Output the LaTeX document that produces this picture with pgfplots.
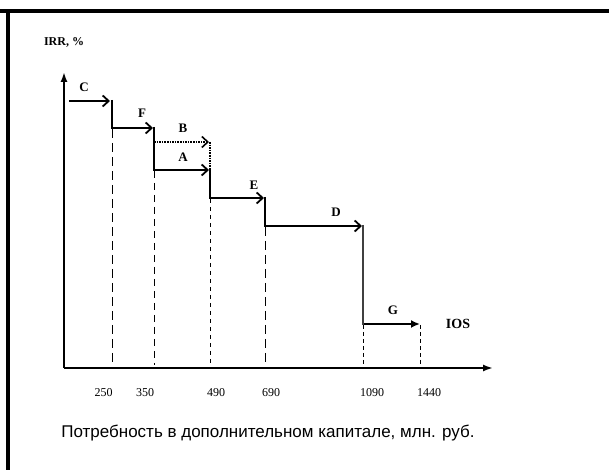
\documentclass[border=0pt]{standalone}
\usepackage{fontspec}
\setmainfont{Liberation Serif}
\newfontfamily\arialf{Liberation Sans}
\usepackage{pgfplots}
\pgfplotsset{compat=1.18}
\usetikzlibrary{arrows.meta}
\tikzset{lbl/.style={font=\bfseries\fontsize{13}{15}\selectfont, inner sep=0pt}}
\begin{document}
\begin{tikzpicture}[x=1pt,y=1pt]
\path[use as bounding box] (0,0) rectangle (609,470);
\draw[line width=4pt] (0,459) -- (609,459);
\draw[line width=4pt] (8,0) -- (8,461);
\begin{axis}[
  at={(64,102)}, anchor=south west,
  scale only axis, width=429pt, height=296pt,
  xmin=64, xmax=493, ymin=102, ymax=398,
  axis lines=left, clip=false,
  axis line style={line width=1.8pt, -{Latex[length=10pt,width=7pt]}},
  xtick={103.5,145,216,271,372,429},
  xticklabels={250,350,490,690,1090,1440},
  ytick=\empty,
  major tick length=0pt,
  xticklabel style={font=\fontsize{12}{14}\selectfont, inner sep=0pt, anchor=center, yshift=-25pt},
  /pgf/number format/assume math mode=true,
  ylabel={IRR, \%},
  ylabel style={rotate=-90, anchor=west, inner sep=0pt, font=\bfseries\fontsize{12}{14}\selectfont, at={(axis description cs:-0.047,1.101)}},
  xlabel={Потребность в дополнительном капитале, млн. руб.},
  xlabel style={anchor=center, inner sep=0pt, font=\arialf\fontsize{17}{20}\selectfont, at={(axis description cs:0.4755,-0.219)}},
]
% horizontal steps with open arrow heads
\addplot[line width=1.8pt, -{Straight Barb[length=6pt,width=11pt]}] coordinates {(69,369) (110,369)};
\addplot[line width=1.8pt, -{Straight Barb[length=6pt,width=11pt]}] coordinates {(112,342) (153,342)};
\addplot[line width=1.6pt, densely dotted, -{Straight Barb[length=6pt,width=11pt]}] coordinates {(154,328) (209,328)};
\addplot[line width=1.8pt, -{Straight Barb[length=6pt,width=11pt]}] coordinates {(154,300) (209,300)};
\addplot[line width=1.8pt, -{Straight Barb[length=6pt,width=11pt]}] coordinates {(210,272) (264,272)};
\addplot[line width=1.8pt, -{Straight Barb[length=6pt,width=11pt]}] coordinates {(265,244) (362,244)};
\addplot[line width=1.8pt, -{Latex[length=9pt,width=8pt]}] coordinates {(363,146) (420,146)};
% vertical steps
\addplot[line width=1.8pt] coordinates {(112,370) (112,341)};
\addplot[line width=1.8pt] coordinates {(154,343) (154,299)};
\addplot[line width=1.6pt, densely dotted] coordinates {(210,328) (210,300)};
\addplot[line width=1.8pt] coordinates {(210,301) (210,271)};
\addplot[line width=1.8pt] coordinates {(265,273) (265,243)};
\addplot[line width=1.8pt, black!75] coordinates {(363,245) (363,145)};
% dashed drop lines
\addplot[line width=1pt, dash pattern=on 9pt off 5pt] coordinates {(112,341) (112,105)};
\addplot[line width=0.8pt, dash pattern=on 7pt off 5pt] coordinates {(154,299) (154,105)};
\addplot[line width=1pt, dash pattern=on 4pt off 4pt] coordinates {(210,271) (210,105)};
\addplot[line width=1pt, dash pattern=on 9pt off 5pt] coordinates {(265,243) (265,105)};
\addplot[line width=1pt, dash pattern=on 4pt off 3pt] coordinates {(363,145) (363,105)};
\addplot[line width=1pt, dash pattern=on 4pt off 3pt] coordinates {(420,145) (420,105)};
% letters
\node[lbl] at (axis cs:84,383) {C};
\node[lbl] at (axis cs:142,357) {F};
\node[lbl] at (axis cs:183,342) {B};
\node[lbl] at (axis cs:183,313) {A};
\node[lbl] at (axis cs:254,285) {E};
\node[lbl] at (axis cs:336,258) {D};
\node[lbl] at (axis cs:393,160) {G};
\node[lbl, font=\bfseries\fontsize{14}{16}\selectfont] at (axis cs:458,146) {IOS};
\end{axis}
\end{tikzpicture}
\end{document}
